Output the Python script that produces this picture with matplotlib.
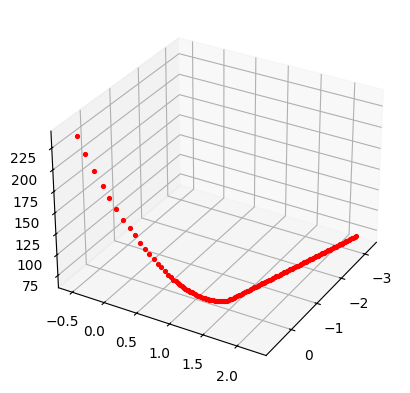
import matplotlib
matplotlib.use("Agg")
import matplotlib.pyplot as plt

xs = [0.808, 0.761, 0.713, 0.666, 0.624, 0.585, 0.548, 0.514, 0.483, 0.453, 0.424, 0.397, 0.372, 0.349, 0.33, 0.306,
      0.287, 0.273, 0.259, 0.245,
      0.23, 0.223, 0.216, 0.209, 0.202, 0.195, 0.188, 0.18, 0.173, 0.162, 0.15, 0.14, 0.13, 0.12, 0.11, 0.10, 0.09,
      0.078, 0.065, 0.052, 0.04, 0.028, 0.015, 0.0, -0.015, -0.032, -0.05, -0.065, -0.08, -0.095, -0.11, -0.125, -0.14,
      -0.179, -0.218, -0.257, -0.295, -0.334, -0.373, -0.412, -0.45, -0.489, -0.528, -0.567, -0.606, -0.645, -0.683,
      -0.722, -0.761, -0.8, -0.838, -0.877, -0.916, -0.955, -0.994, -1.033, -1.071, -1.11, -1.149, -1.188, -1.226,
      -1.265, -1.304, -1.343, -1.382, -1.421, -1.459, -1.498, -1.537, -1.576, -1.614, -1.653, -1.692, -1.731, -1.77,
      -1.809, -1.847, -1.886, -1.925, -1.964, -2.002, -2.041, -2.08, -2.119, -2.158, -2.197, -2.235, -2.274, -2.313,
      -2.352, -2.39, -2.429, -2.468, -2.507, -2.546, -2.585, -2.623, -2.662, -2.701, -2.74, -2.778, -2.817, -2.856,
      -2.895, -2.934, -2.973, -3.011, -3.05, -3.089, -3.128, -3.166, -3.205, -3.244, -3.283, -3.322, -3.361, -3.40]
ys = [-0.386, -0.30, -0.20, -0.095, -0.02, 0.065, 0.148, 0.226, 0.29, 0.355, 0.415, 0.47, 0.525, 0.575, 0.615, 0.665,
      0.705, 0.735, 0.765, 0.795,
      0.825, 0.84, 0.855, 0.87, 0.885, 0.902, 0.92, 0.935, 0.95, 0.965, 0.98, 0.995, 1.01, 1.03, 1.05, 1.07, 1.09,
      1.11, 1.13, 1.152, 1.175, 1.192, 1.21, 1.23, 1.25, 1.27, 1.29, 1.31, 1.33, 1.352, 1.375, 1.395, 1.416,
      1.425, 1.433, 1.442, 1.451, 1.459, 1.468, 1.477, 1.485, 1.494, 1.503, 1.511, 1.52, 1.529, 1.538,
      1.546, 1.555, 1.564, 1.572, 1.581, 1.59, 1.598, 1.607, 1.616, 1.624, 1.633, 1.642, 1.65, 1.659,
      1.668, 1.676, 1.685, 1.694, 1.702, 1.711, 1.72, 1.728, 1.737, 1.746, 1.754, 1.763, 1.772, 1.78,
      1.789, 1.798, 1.806, 1.815, 1.824, 1.832, 1.841, 1.85, 1.859, 1.867, 1.876, 1.885, 1.893, 1.902,
      1.911, 1.919, 1.928, 1.937, 1.945, 1.954, 1.963, 1.971, 1.98, 1.989, 1.997, 2.006, 2.015, 2.023,
      2.032, 2.041, 2.049, 2.058, 2.067, 2.075, 2.084, 2.093, 2.101, 2.11, 2.119, 2.128, 2.136, 2.145]
zs = [242, 222, 204, 188, 174, 162, 151, 142, 134, 126, 119, 113, 108, 103, 99, 95,
      91, 88.5, 86, 84,
      82, 81, 80, 79, 78, 77.2, 76.5, 75.7, 75, 74.2, 73.5, 72.7, 72, 71, 70, 69.2, 68.5,
      67.7, 67, 66.5, 66, 65.5, 65, 64.7, 64.5, 64.2, 64, 64, 64, 64, 64, 64, 64,
      64, 64, 64, 64, 64, 64, 64, 64, 64, 64, 64, 64, 64, 64,
      64, 64, 64, 64, 64, 64, 64, 64, 64, 64, 64, 64, 64, 64,
      64, 64, 64, 64, 64, 64, 64, 64, 64, 64, 64, 64, 64, 64,
      64, 64, 64, 64, 64, 64, 64, 64, 64, 64, 64, 64, 64, 64,
      64, 64, 64, 64, 64, 64, 64, 64, 64, 64, 64, 64, 64, 64,
      64, 64, 64, 64, 64, 64, 64, 64, 64, 64, 64, 64, 64, 64]

fig = plt.figure()
ax = fig.add_subplot(projection='3d')
ax.plot(xs, ys, zs, 'r.', markersize=5.5)
ax.set_xlim(-3.5, 0.95)
ax.set_ylim(-0.72, 2.42)
ax.set_zlim(60, 244)
ax.view_init(30, 30)
plt.savefig('out.png', bbox_inches='tight')
